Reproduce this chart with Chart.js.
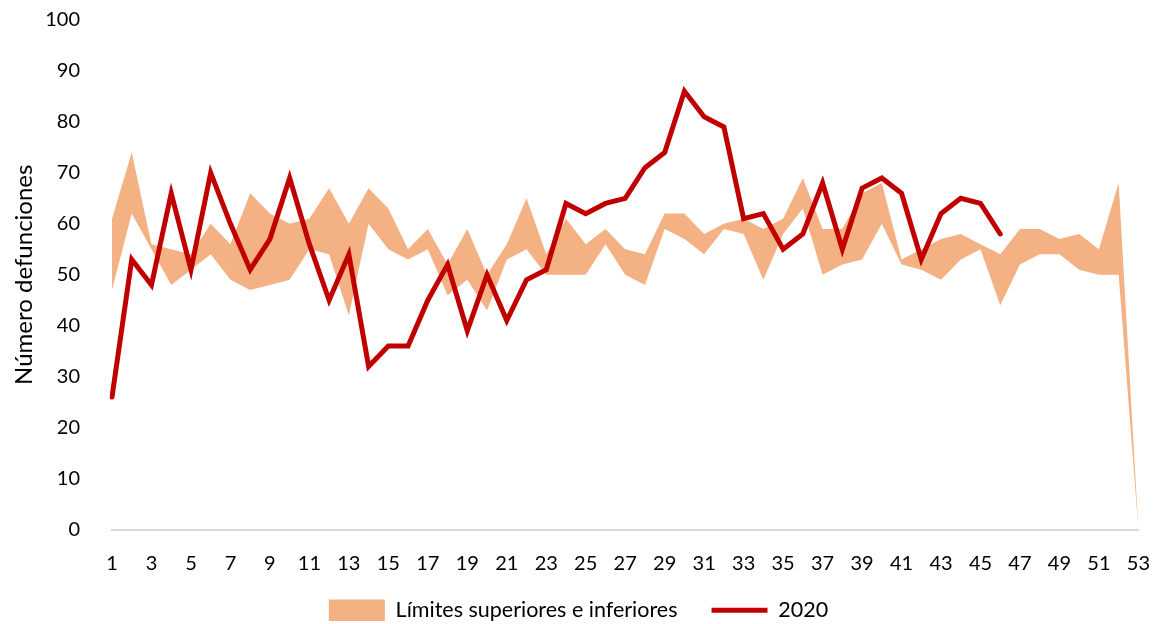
<!DOCTYPE html>
<html>
<head>
<meta charset="utf-8">
<script src="https://cdn.jsdelivr.net/npm/chart.js@4.4.0/dist/chart.umd.min.js"></script>
<style>
  html, body { margin: 0; padding: 0; background: #fff; }
  #wrap { width: 1172px; height: 624px; position: relative; }
</style>
</head>
<body>
<div id="wrap"><canvas id="chart"></canvas></div>
<script>
// ========================== DATA ==============================
const weeks = [];
for (let w = 1; w <= 53; w++) weeks.push(String(w));

const upperLimit = [61, 74, 56, 55, 54, 60, 56, 66, 62, 60,
                    61, 67, 60, 67, 63, 55, 59, 52, 59, 50,
                    56, 65, 54, 61, 56, 59, 55, 54, 62, 62,
                    58, 60, 61, 59, 61, 69, 59, 59, 66, 68,
                    53, 55, 57, 58, 56, 54, 59, 59, 57, 58,
                    55, 68, 0];

const lowerLimit = [47, 62, 55, 48, 51, 54, 49, 47, 48, 49,
                    55, 54, 42, 60, 55, 53, 55, 46, 49, 43,
                    53, 55, 50, 50, 50, 56, 50, 48, 59, 57,
                    54, 59, 58, 49, 58, 63, 50, 52, 53, 60,
                    52, 51, 49, 53, 55, 44, 52, 54, 54, 51,
                    50, 50, 0];

const deaths2020 = [26, 53, 48, 66, 51, 70, 60, 51, 57, 69,
                    56, 45, 54, 32, 36, 36, 45, 52, 39, 50,
                    41, 49, 51, 64, 62, 64, 65, 71, 74, 86,
                    81, 79, 61, 62, 55, 58, 68, 55, 67, 69,
                    66, 53, 62, 65, 64, 58];

const yTicks = [0, 10, 20, 30, 40, 50, 60, 70, 80, 90, 100];

// ========================== CHART =============================
const FONT = 'Lato, "Open Sans", sans-serif';
Chart.defaults.font.family = FONT;
Chart.defaults.color = '#000';

// pull the legend a little closer to the axis labels
const legendNudge = {
  id: 'legendNudge',
  afterLayout(chart) {
    chart.legend.top -= 32;
    chart.legend.bottom -= 32;
  }
};

new Chart(document.getElementById('chart'), {
  type: 'line',
  data: {
    labels: weeks,
    datasets: [
      {
        label: 'lower',
        data: lowerLimit,
        borderWidth: 0,
        borderColor: 'rgba(0,0,0,0)',
        pointRadius: 0,
        fill: false,
        tension: 0
      },
      {
        label: 'Límites superiores e inferiores',
        data: upperLimit,
        borderWidth: 0,
        borderColor: 'rgba(0,0,0,0)',
        backgroundColor: '#F4B183',
        pointRadius: 0,
        pointStyle: 'rect',
        fill: '-1',
        tension: 0
      },
      {
        label: '2020',
        data: deaths2020,
        borderColor: '#C00000',
        backgroundColor: '#C00000',
        borderWidth: 5,
        borderCapStyle: 'round',
        pointRadius: 0,
        pointStyle: 'line',
        fill: false,
        tension: 0,
        order: -1
      }
    ]
  },
  plugins: [legendNudge],
  options: {
    responsive: true,
    maintainAspectRatio: false,
    animation: false,
    layout: { padding: { top: 20, right: 15, left: 0, bottom: -39 } },
    plugins: {
      tooltip: { enabled: false },
      legend: {
        position: 'bottom',
        labels: {
          usePointStyle: true,
          pointStyleWidth: 56,
          boxHeight: 22,
          padding: 34,
          font: { size: 21.5 },
          filter: item => item.text !== 'lower',
          sort: (a, b) => a.datasetIndex - b.datasetIndex
        }
      }
    },
    scales: {
      x: {
        grid: { display: false, drawTicks: false },
        border: { display: true, color: '#D9D9D9', width: 2 },
        ticks: {
          autoSkip: false,
          maxRotation: 0,
          padding: 22,
          font: { size: 20 },
          callback: (v, i) => (i % 2 === 0 ? weeks[i] : '')
        }
      },
      y: {
        min: 0,
        max: 100,
        afterFit: s => { s.width = 112; s.paddingTop = 12; s.paddingBottom = 12; },
        afterBuildTicks: s => { s.ticks = yTicks.map(v => ({ value: v })); },
        grid: { display: false, drawTicks: false },
        border: { display: false },
        ticks: { padding: 32, font: { size: 20 } },
        title: {
          display: true,
          text: 'Número defunciones',
          font: { size: 24 },
          padding: { top: 10, bottom: 0 }
        }
      }
    }
  }
});
</script>
</body>
</html>
